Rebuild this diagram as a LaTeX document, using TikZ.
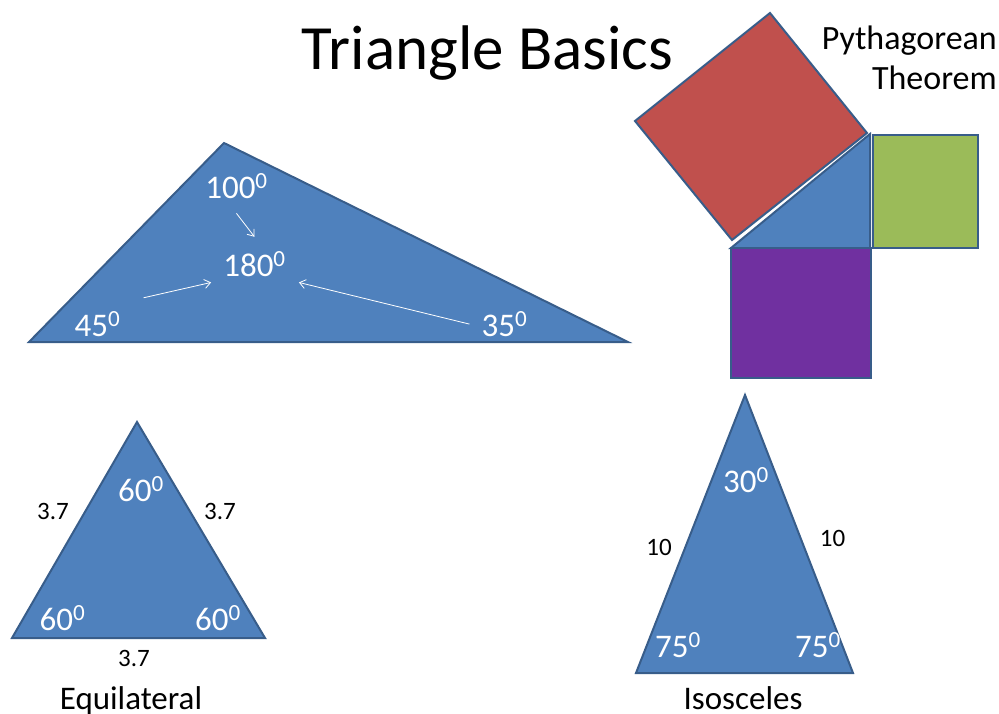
\documentclass[tikz,border=0pt]{standalone}
\usepackage{fontspec}
\setmainfont{Carlito}
\usetikzlibrary{arrows.meta}

\definecolor{fillblue}{HTML}{4F81BD}
\definecolor{edgeblue}{HTML}{385D8A}
\definecolor{sqred}{HTML}{C0504D}
\definecolor{sqgreen}{HTML}{9BBB59}
\definecolor{sqpurple}{HTML}{7030A0}

\begin{document}
\begin{tikzpicture}[
  x=1pt, y=-1pt,
  >={Straight Barb[length=6pt,width=9pt]},
  tri/.style={draw=edgeblue, fill=fillblue, line width=2pt},
  sq/.style={draw=edgeblue, line width=2pt},
  ang/.style={text=white, font=\fontsize{33}{38}\selectfont, inner sep=0pt, anchor=base},
  len/.style={font=\fontsize{25}{30}\selectfont, inner sep=0pt, anchor=base},
  tag/.style={font=\fontsize{33}{38}\selectfont, inner sep=0pt, anchor=base},
  flow/.style={->, white, line width=0.8pt}
]
\useasboundingbox (0,0) rectangle (999,713);

\node[anchor=base, inner sep=0pt, font=\fontsize{63}{72}\selectfont] (title) at (487.5,69) {Triangle Basics};

% angle sum
\draw[tri] (29,342) -- (224,143) -- (628,342) -- cycle;
\node[ang] (a100) at (236.5,198) {100\textsuperscript{0}};
\node[ang] (sum) at (254.5,276) {180\textsuperscript{0}};
\node[ang] (a45) at (97.5,336) {45\textsuperscript{0}};
\node[ang] (a35) at (504.5,336) {35\textsuperscript{0}};
\draw[flow] ([shift={(0,15)}]a100.south) -- ([shift={(0,-15)}]sum.north);
\draw[flow] ([shift={(23,-14)}]a45.north east) -- ([shift={(-12,6)}]sum.south west);
\draw[flow] ([shift={(-12,0)}]a35.west) -- ([shift={(13,6)}]sum.south east);

% pythagorean theorem
\draw[sq, fill=sqred] (635,121) -- (770,13) -- (867,133) -- (732,240) -- cycle;
\draw[tri] (870,134) -- (731,248) -- (870,248) -- cycle;
\draw[sq, fill=sqgreen] (873,135) rectangle (978,248);
\draw[sq, fill=sqpurple] (731,248) rectangle (871,378);
\node[anchor=north east, inner sep=0pt, align=right, font=\fontsize{34}{40}\selectfont] (pyth) at (997,26) {Pythagorean\\Theorem};

% equilateral
\draw[tri] (12,638) -- (137,422) -- (265,638) -- cycle;
\node[ang] (e1) at (141,501) {60\textsuperscript{0}};
\node[ang] (e2) at (62.5,630) {60\textsuperscript{0}};
\node[ang] (e3) at (218,630) {60\textsuperscript{0}};
\node[len] (s1) at (53,519) {3.7};
\node[len] (s2) at (220,519) {3.7};
\node[len] (s3) at (134,666) {3.7};
\node[tag] (equi) at (131,709) {Equilateral};

% isosceles
\draw[tri] (636,673) -- (745,395) -- (853,673) -- cycle;
\node[ang] (i1) at (746,492) {30\textsuperscript{0}};
\node[ang] (i2) at (678,657) {75\textsuperscript{0}};
\node[ang] (i3) at (818,657) {75\textsuperscript{0}};
\node[len] (l1) at (659,555) {10};
\node[len] (l2) at (832.5,546) {10};
\node[tag] (iso) at (743,709) {Isosceles};
\end{tikzpicture}
\end{document}
